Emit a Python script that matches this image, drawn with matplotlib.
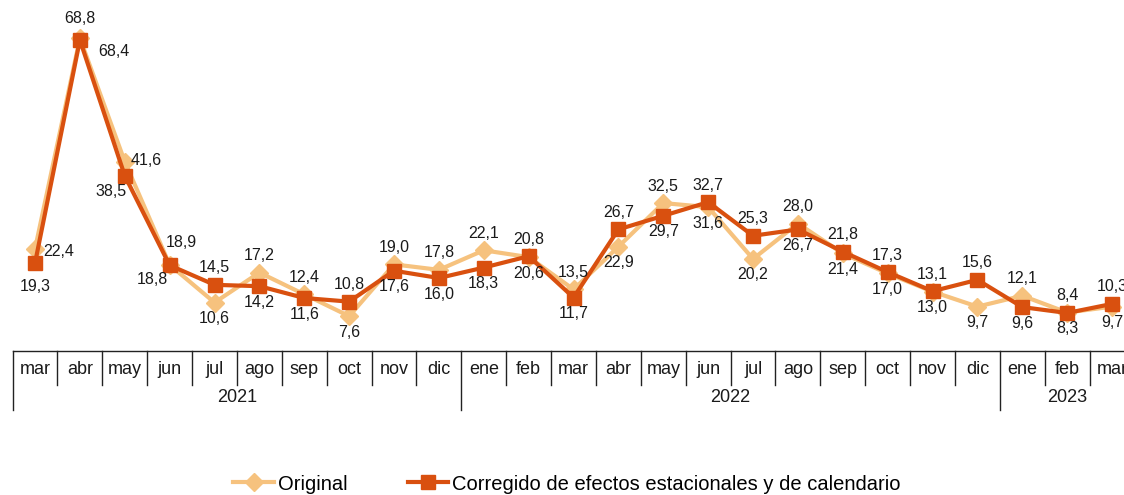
import matplotlib.pyplot as plt
from matplotlib.lines import Line2D

plt.rcParams['font.family'] = ['Liberation Sans', 'DejaVu Sans']

months = ['mar', 'abr', 'may', 'jun', 'jul', 'ago', 'sep', 'oct', 'nov', 'dic',
          'ene', 'feb', 'mar', 'abr', 'may', 'jun', 'jul', 'ago', 'sep', 'oct', 'nov', 'dic',
          'ene', 'feb', 'mar']
years = ['2021', '2022', '2023']
year_counts = [10, 12, 3]

original = [22.4, 68.8, 41.6, 18.9, 10.6, 17.2, 12.4, 7.6, 19.0, 17.8,
            22.1, 20.6, 13.5, 22.9, 32.5, 31.6, 20.2, 28.0, 21.4, 17.0, 13.0, 9.7,
            12.1, 8.4, 9.7]
corregido = [19.3, 68.4, 38.5, 18.8, 14.5, 14.2, 11.6, 10.8, 17.6, 16.0,
             18.3, 20.8, 11.7, 26.7, 29.7, 32.7, 25.3, 26.7, 21.8, 17.3, 13.1, 15.6,
             9.6, 8.3, 10.3]

c_orig = '#F6C27E'
c_corr = '#D9500F'

W, H = 1124, 495
fig = plt.figure(figsize=(W / 100, H / 100), dpi=100)
# axes spans beyond the right edge, like the original
ax = fig.add_axes([12.6 / W, (H - 350.7) / H, 1121.9 / W, 350.7 / H])
x = list(range(len(months)))

ax.plot(x, original, color=c_orig, lw=3, marker='D', ms=9, mec=c_orig, zorder=3)
ax.plot(x, corregido, color=c_corr, lw=3, marker='s', ms=10, mec=c_corr, zorder=4)

ax.set_xlim(-0.5, len(months) - 0.5)
ax.set_ylim(0, 77.2)
ax.axis('off')

def fmt(v):
    return f'{v:.1f}'.replace('.', ',')

# label offsets (pixels) for the crowded start of the series
special = {
    (0, 'o'): (8, -3, 'left'), (0, 'c'): (0, -23, 'center'),
    (1, 'o'): (0, 20, 'center'), (1, 'c'): (18, -12, 'left'),
    (2, 'o'): (6, 1, 'left'), (2, 'c'): (-14, -16, 'center'),
    (3, 'o'): (12, 22, 'center'), (3, 'c'): (-17, -14, 'center'),
}
for i in x:
    for key, vals, other in (('o', original, corregido), ('c', corregido, original)):
        v = vals[i]
        if (i, key) in special:
            dx, dy, ha = special[(i, key)]
        elif v > other[i]:
            dx, dy, ha = 0, 17, 'center'
        else:
            dx, dy, ha = 0, -16, 'center'
        ax.annotate(fmt(v), (i, v), xytext=(dx, dy), textcoords='offset pixels',
                    ha=ha, va='center', fontsize=11.5, color='#1a1a1a', zorder=5)

# category table below the plot
k = dict(color='#222222', lw=1, clip_on=False)
ax.plot([-0.5, len(months) - 0.5], [0, 0], **k)
bounds = [0]
for n in year_counts:
    bounds.append(bounds[-1] + n)
for i in range(len(months) + 1):
    bottom = -13 if i in bounds else -7.6
    ax.plot([i - 0.5, i - 0.5], [0, bottom], **k)
for i, m in enumerate(months):
    ax.text(i, -4.2, m, ha='center', va='center', fontsize=13, color='#1a1a1a')
for j, yr in enumerate(years):
    mid = (bounds[j] + bounds[j + 1]) / 2 - 0.5
    ax.text(mid, -10.4, yr, ha='center', va='center', fontsize=13, color='#1a1a1a')

handles = [
    Line2D([], [], color=c_orig, lw=3, marker='D', ms=9, label='Original'),
    Line2D([], [], color=c_corr, lw=3, marker='s', ms=10,
           label='Corregido de efectos estacionales y de calendario'),
]
fig.legend(handles=handles, loc='center', bbox_to_anchor=(567 / W, 1 - 484 / H),
           ncol=2, frameon=False, fontsize=14.5, handlelength=2.0,
           handletextpad=0.2, columnspacing=3.0)

fig.savefig('out.png', dpi=100)
